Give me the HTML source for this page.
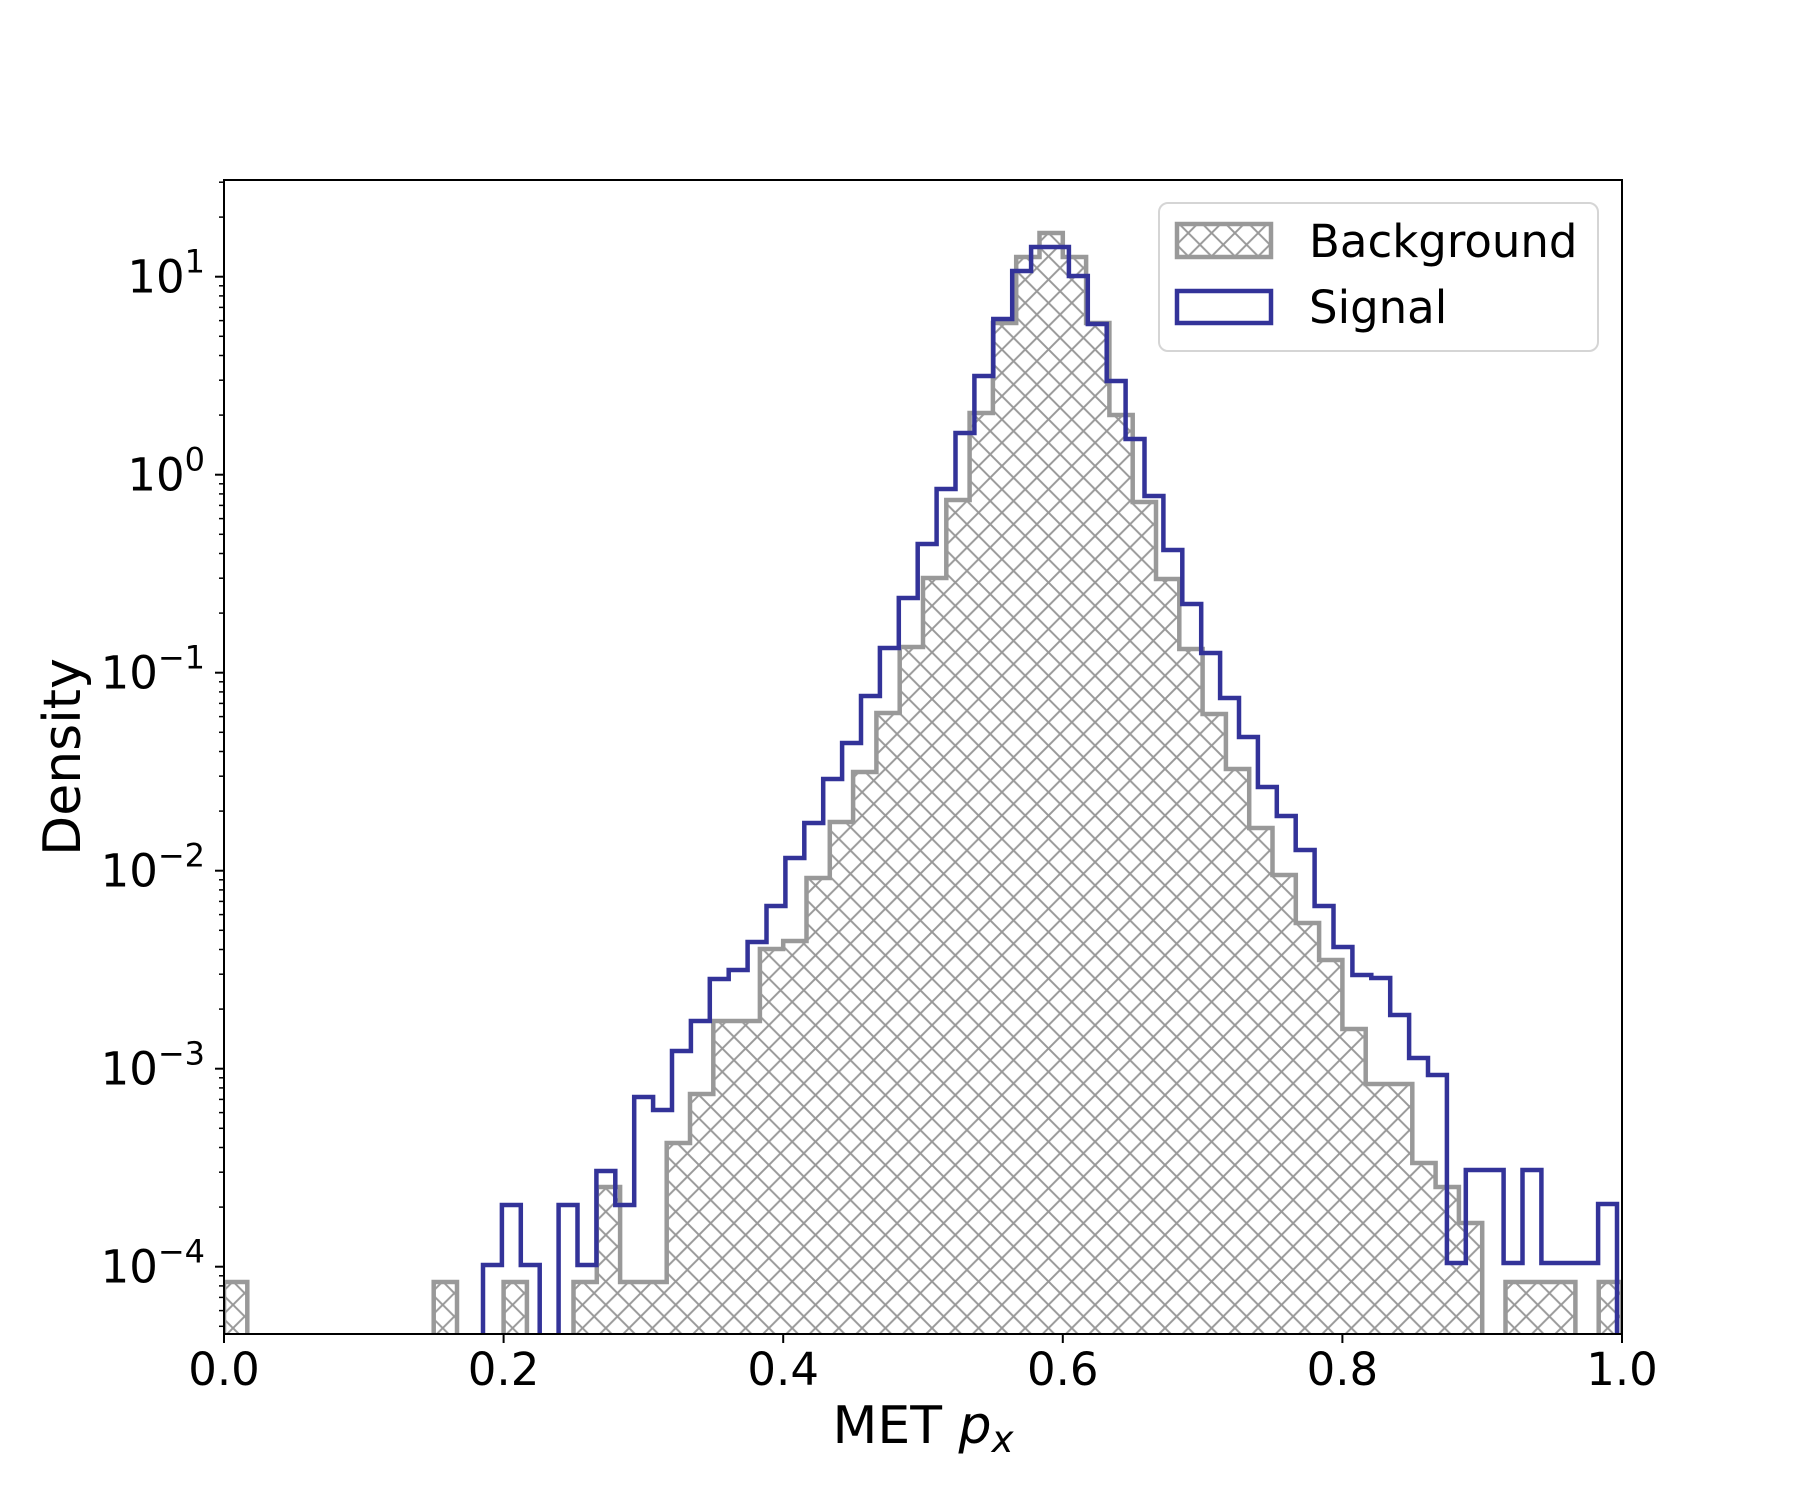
<!DOCTYPE html>
<html><head><meta charset="utf-8"><style>
html,body{margin:0;padding:0;background:#fff;}
svg{display:block;font-family:"DejaVu Sans","Liberation Sans",sans-serif;}
</style></head><body>
<svg width="1801" height="1500" viewBox="0 0 1801 1500" xmlns="http://www.w3.org/2000/svg">
<defs>
<pattern id="h" patternUnits="userSpaceOnUse" width="23.3" height="23.3">
<path d="M0 0L23.3 23.3M0 23.3L23.3 0M-2 2L2 -2M21.3 25.3L25.3 21.3M-2 21.3L2 25.3M21.3 -2L25.3 2" stroke="#999" stroke-width="2" fill="none"/>
</pattern>
<clipPath id="ax"><rect x="224" y="180" width="1398" height="1154"/></clipPath>
<clipPath id="yt"><rect x="200" y="180" width="30" height="1155"/></clipPath>
<g id="mt" stroke="#000" stroke-width="1.5">
<line x1="219" x2="224" y1="-59.6" y2="-59.6"/><line x1="219" x2="224" y1="-94.5" y2="-94.5"/>
<line x1="219" x2="224" y1="-119.2" y2="-119.2"/><line x1="219" x2="224" y1="-138.4" y2="-138.4"/>
<line x1="219" x2="224" y1="-154.1" y2="-154.1"/><line x1="219" x2="224" y1="-167.3" y2="-167.3"/>
<line x1="219" x2="224" y1="-178.8" y2="-178.8"/><line x1="219" x2="224" y1="-188.9" y2="-188.9"/>
</g>
</defs>
<g clip-path="url(#ax)">
<path d="M224 1400 V1282 H247.3 V1400 H433.7 V1282 H457 V1400 H503.6 V1282 H526.9 V1400 H573.5 V1282 H596.8 V1187 H620.1 V1282 H666.7 V1143 H690 V1094 H713.3 V1021 H759.9 V949 H783.2 V941 H806.5 V878 H829.8 V822 H853.1 V772 H876.4 V713 H899.7 V647 H923 V578 H946.3 V500 H969.6 V413 H992.9 V323 H1016.2 V257 H1039.5 V233 H1062.8 V257 H1086.1 V323 H1109.4 V415 H1132.7 V502 H1156 V579 H1179.3 V649 H1202.6 V714 H1225.9 V769 H1249.2 V828 H1272.5 V875 H1295.8 V923 H1319.1 V960 H1342.4 V1029 H1365.7 V1084 H1412.3 V1163 H1435.6 V1187 H1458.9 V1223 H1482.2 V1400 H1505.5 V1282 H1575.4 V1400 H1598.7 V1282 H1622 V1400 Z" fill="url(#h)" stroke="#999" stroke-width="4.5" stroke-linejoin="miter"/>
<path d="M483 1400 V1265 H501.9 V1205 H520.8 V1265 H539.7 V1400 H558.6 V1205 H577.5 V1265 H596.4 V1171 H615.3 V1205 H634.2 V1097 H653.1 V1110 H672 V1051 H690.9 V1021 H709.8 V979 H728.7 V970 H747.6 V942 H766.5 V906 H785.4 V858 H804.3 V823 H823.2 V779 H842.1 V743 H861 V696 H879.9 V648 H898.8 V598 H917.7 V544 H936.6 V489 H955.5 V433 H974.4 V376 H993.3 V319 H1012.2 V271 H1031.1 V247 H1068.9 V276 H1087.8 V324 H1106.7 V381 H1125.6 V439 H1144.5 V496 H1163.4 V550 H1182.3 V604 H1201.2 V653 H1220.1 V698 H1239 V737 H1257.9 V787 H1276.8 V816 H1295.7 V850 H1314.6 V906 H1333.5 V947 H1352.4 V975 H1371.3 V978 H1390.2 V1015 H1409.1 V1058 H1428 V1075 H1446.9 V1263 H1465.8 V1170 H1503.6 V1263 H1522.5 V1170 H1541.4 V1263 H1598.1 V1204 H1617 V1400" fill="none" stroke="#333399" stroke-width="4.5"/>
</g>
<!-- spines -->
<rect x="224" y="180" width="1398" height="1154" fill="none" stroke="#000" stroke-width="2"/>
<!-- minor y ticks -->
<g clip-path="url(#yt)">
<use href="#mt" y="1464.7"/><use href="#mt" y="1266.7"/><use href="#mt" y="1068.7"/>
<use href="#mt" y="870.7"/><use href="#mt" y="672.7"/><use href="#mt" y="474.7"/><use href="#mt" y="276.7"/>
</g>
<!-- major y ticks -->
<g stroke="#000" stroke-width="2">
<line x1="215" x2="224" y1="276.7" y2="276.7"/><line x1="215" x2="224" y1="474.7" y2="474.7"/>
<line x1="215" x2="224" y1="672.7" y2="672.7"/><line x1="215" x2="224" y1="870.7" y2="870.7"/>
<line x1="215" x2="224" y1="1068.7" y2="1068.7"/><line x1="215" x2="224" y1="1266.7" y2="1266.7"/>
<line x1="224" x2="224" y1="1334" y2="1343"/><line x1="503.6" x2="503.6" y1="1334" y2="1343"/>
<line x1="783.2" x2="783.2" y1="1334" y2="1343"/><line x1="1062.8" x2="1062.8" y1="1334" y2="1343"/>
<line x1="1342.4" x2="1342.4" y1="1334" y2="1343"/><line x1="1622" x2="1622" y1="1334" y2="1343"/>
</g>
<g font-size="45" fill="#000" text-anchor="end">
<text x="205" y="292.7">10<tspan dy="-20" font-size="32">1</tspan></text>
<text x="205" y="490.7">10<tspan dy="-20" font-size="32">0</tspan></text>
<text x="205" y="688.7">10<tspan dy="-20" font-size="32">−1</tspan></text>
<text x="205" y="886.7">10<tspan dy="-20" font-size="32">−2</tspan></text>
<text x="205" y="1084.7">10<tspan dy="-20" font-size="32">−3</tspan></text>
<text x="205" y="1282.7">10<tspan dy="-20" font-size="32">−4</tspan></text>
</g>
<g font-size="45" fill="#000" text-anchor="middle">
<text x="224" y="1385">0.0</text><text x="503.6" y="1385">0.2</text><text x="783.2" y="1385">0.4</text>
<text x="1062.8" y="1385">0.6</text><text x="1342.4" y="1385">0.8</text><text x="1622" y="1385">1.0</text>
</g>
<text x="923" y="1443" font-size="52" text-anchor="middle">MET <tspan font-style="italic">p</tspan><tspan font-style="italic" font-size="37" dy="9">x</tspan></text>
<text transform="translate(80 757) rotate(-90)" font-size="52" text-anchor="middle">Density</text>
<!-- legend -->
<rect x="1159" y="203" width="439" height="148" rx="9" fill="#fff" fill-opacity="0.8" stroke="#d5d5d5" stroke-width="2"/>
<rect x="1177" y="224" width="94" height="33" fill="url(#h)" stroke="#999" stroke-width="4.5"/>
<rect x="1177" y="291" width="94" height="32" fill="none" stroke="#333399" stroke-width="4.5"/>
<text x="1309" y="257" font-size="45">Background</text>
<text x="1309" y="323" font-size="45">Signal</text>
</svg>
</body></html>
